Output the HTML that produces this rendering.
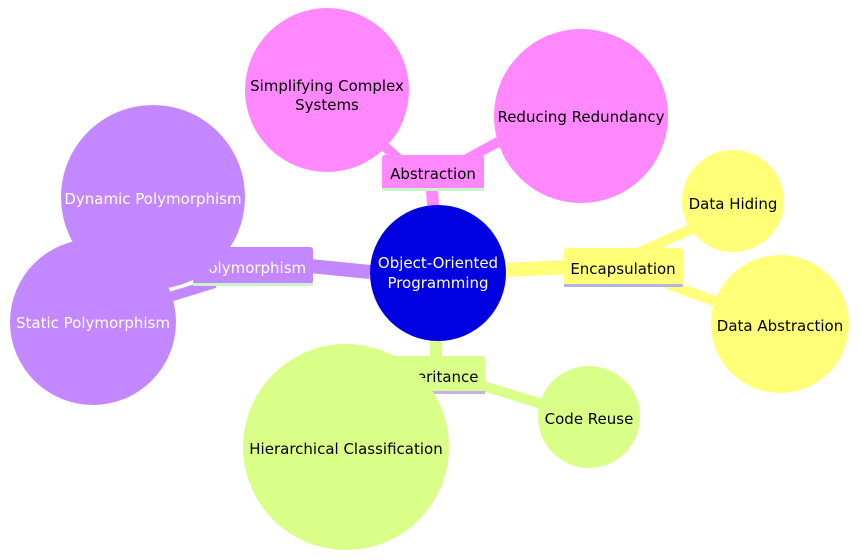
<!DOCTYPE html>
<html><head><meta charset="utf-8"><style>
html,body{margin:0;padding:0;background:#fff;width:860px;height:560px;overflow:hidden}
text{font-family:"Trebuchet MS","DejaVu Sans","Liberation Sans",sans-serif;font-size:15px}
</style></head><body>
<svg width="860" height="560" viewBox="0 0 860 560" xmlns="http://www.w3.org/2000/svg">
<g stroke-linecap="butt" fill="none">
<line x1="432" y1="190" x2="434" y2="220" stroke="#ff88ff" stroke-width="12"/>
<line x1="400" y1="160" x2="360" y2="125" stroke="#ff88ff" stroke-width="10"/>
<line x1="465" y1="160" x2="520" y2="130" stroke="#ff88ff" stroke-width="10"/>
<line x1="506" y1="270" x2="570" y2="267" stroke="#ffff78" stroke-width="14"/>
<line x1="640" y1="252" x2="700" y2="225" stroke="#ffff78" stroke-width="10"/>
<line x1="665" y1="283" x2="725" y2="305" stroke="#ffff78" stroke-width="10"/>
<line x1="370" y1="272" x2="310" y2="266" stroke="#c387ff" stroke-width="14"/>
<line x1="215" y1="283" x2="160" y2="300" stroke="#c387ff" stroke-width="10"/>
<line x1="436" y1="340" x2="436" y2="360" stroke="#d9ff88" stroke-width="12"/>
<line x1="480" y1="385" x2="545" y2="405" stroke="#d9ff88" stroke-width="10"/>
</g>
<!-- section nodes -->
<rect x="382" y="155" width="102" height="35" rx="3" fill="#ff88ff"/>
<rect x="382" y="188" width="102" height="3" fill="#c9f5c9"/>
<text x="433" y="179" text-anchor="middle" fill="#000">Abstraction</text>
<rect x="564" y="248" width="119" height="37" rx="3" fill="#ffff78"/>
<rect x="564" y="284" width="119" height="3" fill="#b3b3e6"/>
<text x="623" y="274" text-anchor="middle" fill="#000">Encapsulation</text>
<rect x="193" y="247" width="120" height="37" rx="3" fill="#c387ff"/>
<rect x="193" y="283" width="120" height="3" fill="#c9f5c9"/>
<text x="253" y="273" text-anchor="middle" fill="#fff">Polymorphism</text>
<rect x="380" y="356" width="105" height="36" rx="3" fill="#d9ff88"/>
<rect x="380" y="391" width="105" height="3" fill="#c2b3f0"/>
<text x="436" y="382" text-anchor="middle" fill="#000">Inheritance</text>
<!-- root -->
<circle cx="438" cy="273" r="68" fill="#0000e0"/>
<text x="438" y="268" text-anchor="middle" fill="#fff">Object-Oriented</text>
<text x="438" y="288" text-anchor="middle" fill="#fff">Programming</text>
<!-- leaves -->
<circle cx="327" cy="90" r="82" fill="#ff88ff"/>
<text x="327" y="91" text-anchor="middle">Simplifying Complex</text>
<text x="327" y="110" text-anchor="middle">Systems</text>
<circle cx="581" cy="116" r="87" fill="#ff88ff"/>
<text x="581" y="122" text-anchor="middle">Reducing Redundancy</text>
<circle cx="733" cy="201" r="51" fill="#ffff78"/>
<text x="733" y="209" text-anchor="middle">Data Hiding</text>
<circle cx="780" cy="324" r="69" fill="#ffff78"/>
<text x="780" y="331" text-anchor="middle">Data Abstraction</text>
<circle cx="153" cy="197" r="92" fill="#c387ff"/>
<text x="153" y="204" text-anchor="middle" fill="#fff">Dynamic Polymorphism</text>
<circle cx="93" cy="322" r="83" fill="#c387ff"/>
<text x="93" y="328" text-anchor="middle" fill="#fff">Static Polymorphism</text>
<circle cx="589" cy="417" r="51" fill="#d9ff88"/>
<text x="589" y="424" text-anchor="middle">Code Reuse</text>
<circle cx="346" cy="447" r="103" fill="#d9ff88"/>
<text x="346" y="454" text-anchor="middle">Hierarchical Classification</text>
</svg>
</body></html>
